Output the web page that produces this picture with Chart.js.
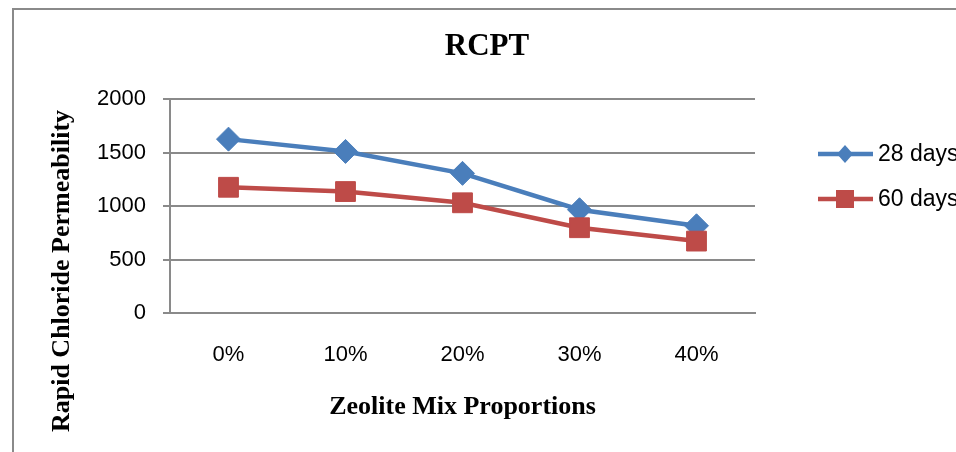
<!DOCTYPE html>
<html>
<head>
<meta charset="utf-8">
<script src="https://cdn.jsdelivr.net/npm/chart.js@4.4.0/dist/chart.umd.min.js"></script>
<style>
  body { margin: 0; background: #fff; }
  #wrap { width: 956px; height: 452px; position: relative; }
</style>
</head>
<body>
<div id="wrap"><canvas id="myChart"></canvas></div>
<script>
var categories = ['0%', '10%', '20%', '30%', '40%'];
var days28 = [1625, 1510, 1305, 965, 815];
var days60 = [1175, 1135, 1030, 797, 672];
var seriesNames = ['28 days', '60 days'];
var chartTitle = 'RCPT';
var xTitle = 'Zeolite Mix Proportions';
var yTitle = 'Rapid Chloride Permeability';

var blue = '#4a7ebb';
var red = '#be4b48';
var gridGray = '#8a8a8a';

// frame, chart title, rotated y title and the legend on the right
var decor = {
    id: 'decor',
    beforeDraw: function(chart) {
        var ctx = chart.ctx;
        ctx.save();
        ctx.strokeStyle = gridGray;
        ctx.lineWidth = 2;
        ctx.beginPath();
        ctx.moveTo(13, 470);
        ctx.lineTo(13, 9);
        ctx.lineTo(980, 9);
        ctx.stroke();
        ctx.restore();
    },
    afterDraw: function(chart) {
        var ctx = chart.ctx;
        ctx.save();
        ctx.fillStyle = '#000';
        ctx.textAlign = 'center';
        ctx.textBaseline = 'middle';
        ctx.font = 'bold 31px "Liberation Serif"';
        ctx.fillText(chartTitle, 487, 47);

        ctx.save();
        ctx.translate(62, 271);
        ctx.rotate(-Math.PI / 2);
        ctx.font = 'bold 26px "Liberation Serif"';
        ctx.fillText(yTitle, 0, 0);
        ctx.restore();

        chart.data.datasets.forEach(function(ds, i) {
            var y = 154 + i * 45;
            ctx.strokeStyle = ds.borderColor;
            ctx.lineWidth = 4.5;
            ctx.beginPath();
            ctx.moveTo(818, y);
            ctx.lineTo(873, y);
            ctx.stroke();
            ctx.fillStyle = ds.borderColor;
            ctx.beginPath();
            if (i === 0) {
                ctx.moveTo(845, y - 9);
                ctx.lineTo(853, y);
                ctx.lineTo(845, y + 9);
                ctx.lineTo(837, y);
                ctx.closePath();
            } else {
                ctx.rect(836, y - 9, 18, 18);
            }
            ctx.fill();
            ctx.fillStyle = '#000';
            ctx.textAlign = 'left';
            ctx.font = '23px "Liberation Sans"';
            ctx.fillText(ds.label, 878, y + 1);
        });
        ctx.restore();
    }
};

var ctx = document.getElementById('myChart').getContext('2d');
var rcptChart = new Chart(ctx, {
    type: 'line',
    data: {
        labels: categories,
        datasets: [
            {
                label: seriesNames[0],
                data: days28,
                borderColor: blue,
                backgroundColor: blue,
                borderWidth: 4.5,
                pointStyle: 'rectRot',
                pointRadius: 12,
                pointBackgroundColor: blue,
                pointBorderColor: blue,
                pointBorderWidth: 1,
                order: 1
            },
            {
                label: seriesNames[1],
                data: days60,
                borderColor: red,
                backgroundColor: red,
                borderWidth: 4.5,
                pointStyle: 'rect',
                pointRadius: 14,
                pointBackgroundColor: red,
                pointBorderColor: red,
                pointBorderWidth: 1,
                order: 0
            }
        ]
    },
    options: {
        responsive: true,
        maintainAspectRatio: false,
        animation: false,
        layout: {
            padding: { top: 99, right: 201, bottom: 29, left: 0 }
        },
        plugins: {
            legend: { display: false },
            title: { display: false },
            tooltip: { enabled: false }
        },
        scales: {
            x: {
                offset: true,
                grid: { display: false, drawTicks: false },
                border: { display: true, color: gridGray, width: 2 },
                ticks: {
                    padding: 29,
                    color: '#000',
                    font: { family: 'Liberation Sans', size: 22 }
                },
                title: {
                    display: true,
                    text: xTitle,
                    color: '#000',
                    font: { family: 'Liberation Serif', size: 26, weight: 'bold' },
                    padding: { top: 0, bottom: 0 }
                },
                afterFit: function(scale) { scale.height = 110; }
            },
            y: {
                min: 0,
                max: 2000,
                ticks: {
                    stepSize: 500,
                    padding: 17,
                    color: '#000',
                    font: { family: 'Liberation Sans', size: 22 },
                    callback: function(value) { return String(value); }
                },
                grid: { color: gridGray, lineWidth: 2, tickLength: 7 },
                border: { color: gridGray, width: 2 },
                afterFit: function(scale) { scale.width = 170; }
            }
        }
    },
    plugins: [decor]
});
</script>
</body>
</html>
